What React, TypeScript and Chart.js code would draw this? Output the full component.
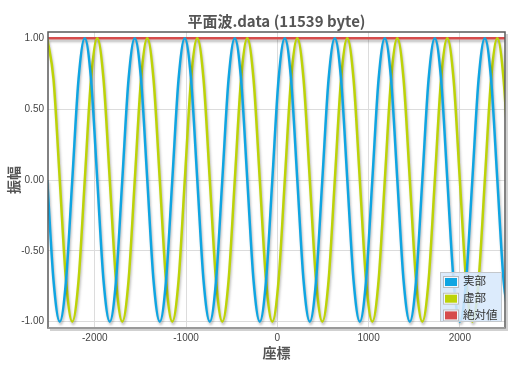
import { useEffect, useRef } from 'react';
import { Chart, registerables } from 'chart.js';

Chart.register(...registerables);

// Sample positions along the axis (座標)
const xPositions = [
  -2521, -2452.5, -2384, -2315.5, -2247, -2178.5,
  -2110, -2041.5, -1973, -1904.5, -1836, -1767.5, -1699, -1630.5,
  -1562, -1493.5, -1425, -1356.5, -1288, -1219.5, -1151, -1082.5,
  -1014, -945.5, -877, -808.5, -740, -671.5, -603, -534.5,
  -466, -397.5, -329, -260.5, -192, -123.5, -55, 13.5,
  82, 150.5, 219, 287.5, 356, 424.5, 493, 561.5,
  630, 698.5, 767, 835.5, 904, 972.5, 1041, 1109.5,
  1178, 1246.5, 1315, 1383.5, 1452, 1520.5, 1589, 1657.5,
  1726, 1794.5, 1863, 1931.5, 2000, 2068.5, 2137, 2205.5,
  2274, 2342.5, 2411, 2479.5, 2548,
];

// 実部
const realPart = [
  0, -0.71, -1, -0.71, 0, 0.71,
  1, 0.71, 0, -0.71, -1, -0.71, 0, 0.71,
  1, 0.71, 0, -0.71, -1, -0.71, 0, 0.71,
  1, 0.71, 0, -0.71, -1, -0.71, 0, 0.71,
  1, 0.71, 0, -0.71, -1, -0.71, 0, 0.71,
  1, 0.71, 0, -0.71, -1, -0.71, 0, 0.71,
  1, 0.71, 0, -0.71, -1, -0.71, 0, 0.71,
  1, 0.71, 0, -0.71, -1, -0.71, 0, 0.71,
  1, 0.71, 0, -0.71, -1, -0.71, 0, 0.71,
  1, 0.71, 0, -0.71, -1,
];

// 虚部
const imagPart = [
  1, 0.71, 0, -0.71, -1, -0.71,
  0, 0.71, 1, 0.71, 0, -0.71, -1, -0.71,
  0, 0.71, 1, 0.71, 0, -0.71, -1, -0.71,
  0, 0.71, 1, 0.71, 0, -0.71, -1, -0.71,
  0, 0.71, 1, 0.71, 0, -0.71, -1, -0.71,
  0, 0.71, 1, 0.71, 0, -0.71, -1, -0.71,
  0, 0.71, 1, 0.71, 0, -0.71, -1, -0.71,
  0, 0.71, 1, 0.71, 0, -0.71, -1, -0.71,
  0, 0.71, 1, 0.71, 0, -0.71, -1, -0.71,
  0, 0.71, 1, 0.71, 0,
];

// 絶対値
const absX = [-2521, 2548];
const absValues = [1, 1];

const xTickValues = [-2000, -1000, 0, 1000, 2000];
const yTickValues = [-1, -0.5, 0, 0.5, 1];

const seriesNames = ['実部', '虚部', '絶対値'];
const seriesColors = ['#0fa5e2', '#bdd308', '#d64c4c'];

const titleText = '平面波.data (11539 byte)';
const xTitle = '座標';
const yTitle = '振幅';

const JP = '"Noto Sans CJK JP", "Noto Sans", sans-serif';
const NUM = '"Liberation Sans", Arial, sans-serif';

const shadowPlugin = {
  id: 'lineShadow',
  beforeDatasetsDraw(chart: any) {
    const ctx = chart.ctx;
    ctx.save();
    ctx.shadowColor = 'rgba(0,0,0,0.28)';
    ctx.shadowOffsetX = 1;
    ctx.shadowOffsetY = 2.5;
    ctx.shadowBlur = 2.5;
  },
  afterDatasetsDraw(chart: any) {
    chart.ctx.restore();
  },
};

const framePlugin = {
  id: 'frame',
  afterDatasetsDraw(chart: any) {
    const { ctx, chartArea: a } = chart;
    ctx.save();
    ctx.strokeStyle = 'rgba(0,0,0,0.18)';
    ctx.lineWidth = 2;
    ctx.beginPath();
    ctx.moveTo(a.left + 2, a.bottom + 2);
    ctx.lineTo(a.right + 2, a.bottom + 2);
    ctx.lineTo(a.right + 2, a.top + 2);
    ctx.stroke();
    ctx.strokeStyle = '#5a5a5a';
    ctx.lineWidth = 1.5;
    ctx.strokeRect(a.left, a.top, a.right - a.left, a.bottom - a.top);
    ctx.strokeStyle = '#9a9a9a';
    ctx.lineWidth = 2;
    ctx.beginPath();
    ctx.moveTo(a.left, a.bottom);
    ctx.lineTo(a.right, a.bottom);
    ctx.stroke();
    ctx.restore();
  },
};

const legendPlugin = {
  id: 'boxLegend',
  afterDatasetsDraw(chart: any) {
    const { ctx, chartArea: a } = chart;
    const bw = 62;
    const bh = 50;
    const bx = a.right - 3 - bw;
    const by = a.bottom - 6 - bh;
    ctx.save();
    ctx.fillStyle = 'rgba(215,232,252,0.88)';
    ctx.fillRect(bx, by, bw, bh);
    ctx.strokeStyle = '#c4c8cc';
    ctx.lineWidth = 1;
    ctx.strokeRect(bx + 0.5, by + 0.5, bw - 1, bh - 1);
    seriesNames.forEach((name, i) => {
      const cy = by + 9 + i * 16.7;
      const sx = bx + 3;
      const sy = cy - 5;
      ctx.fillStyle = '#f4f8fc';
      ctx.fillRect(sx, sy, 16, 12);
      ctx.strokeStyle = '#b8bcc0';
      ctx.strokeRect(sx + 0.5, sy + 0.5, 15, 11);
      ctx.fillStyle = seriesColors[i];
      ctx.fillRect(sx + 2, sy + 2, 12, 8);
      ctx.fillStyle = '#333';
      ctx.font = `11.5px ${JP}`;
      ctx.textAlign = 'left';
      ctx.textBaseline = 'middle';
      ctx.fillText(name, bx + 23, cy);
    });
    ctx.restore();
  },
};

const titlePlugin = {
  id: 'topTitle',
  afterDraw(chart: any) {
    const { ctx, chartArea: a } = chart;
    ctx.save();
    ctx.fillStyle = '#555';
    ctx.font = `bold 15px ${JP}`;
    ctx.textAlign = 'center';
    ctx.textBaseline = 'middle';
    ctx.fillText(titleText, (a.left + a.right) / 2, 21);
    ctx.restore();
  },
};

export default function App() {
  const canvasRef = useRef<HTMLCanvasElement | null>(null);

  useEffect(() => {
    const canvas = canvasRef.current;
    if (!canvas) return;
    const chart = new Chart(canvas, {
      type: 'line',
      data: {
        datasets: [
          {
            label: seriesNames[0],
            data: xPositions.map((x, i) => ({ x, y: realPart[i] })),
            borderColor: seriesColors[0],
            borderWidth: 2.5,
            pointRadius: 0,
            cubicInterpolationMode: 'monotone',
            fill: false,
          },
          {
            label: seriesNames[1],
            data: xPositions.map((x, i) => ({ x, y: imagPart[i] })),
            borderColor: seriesColors[1],
            borderWidth: 2.5,
            pointRadius: 0,
            cubicInterpolationMode: 'monotone',
            fill: false,
          },
          {
            label: seriesNames[2],
            data: absX.map((x, i) => ({ x, y: absValues[i] })),
            borderColor: seriesColors[2],
            borderWidth: 2.5,
            pointRadius: 0,
            fill: false,
          },
        ],
      },
      options: {
        animation: false,
        responsive: false,
        devicePixelRatio: 1,
        layout: { padding: { top: 32, right: 17, left: 0, bottom: 0 } },
        plugins: {
          legend: { display: false },
          title: { display: false },
          tooltip: { enabled: false },
        },
        scales: {
          x: {
            type: 'linear',
            min: -2513,
            max: 2495,
            afterBuildTicks: (s: any) => {
              s.ticks = xTickValues.map((v) => ({ value: v }));
            },
            afterFit: (s: any) => {
              s.height = 41;
              s.paddingLeft = 0;
              s.paddingRight = 0;
            },
            grid: { color: '#dcdcdc', drawTicks: false, lineWidth: 1 },
            border: { display: false },
            ticks: {
              padding: 4,
              color: '#444',
              font: { family: NUM, size: 10 },
              maxRotation: 0,
              autoSkip: false,
              callback: (v: any) => String(v),
            },
            title: {
              display: true,
              text: xTitle,
              color: '#555',
              font: { family: JP, size: 14, weight: 'bold' },
              padding: { top: 0, bottom: 8 },
            },
          },
          y: {
            type: 'linear',
            min: -1.045,
            max: 1.045,
            afterBuildTicks: (s: any) => {
              s.ticks = yTickValues.map((v) => ({ value: v }));
            },
            afterFit: (s: any) => {
              s.width = 48;
              s.paddingTop = 0;
              s.paddingBottom = 0;
            },
            grid: { color: '#dcdcdc', drawTicks: false, lineWidth: 1 },
            border: { display: false },
            ticks: {
              padding: 4,
              color: '#444',
              font: { family: NUM, size: 10 },
              callback: (v: any) => Number(v).toFixed(2),
            },
            title: {
              display: true,
              text: yTitle,
              color: '#555',
              font: { family: JP, size: 14, weight: 'bold' },
              padding: { top: 5, bottom: 0 },
            },
          },
        },
      } as any,
      plugins: [shadowPlugin, framePlugin, legendPlugin, titlePlugin],
    });
    return () => chart.destroy();
  }, []);

  return (
    <div style={{ position: 'absolute', left: 0, top: 0, width: 522, height: 369 }}>
      <canvas ref={canvasRef} width={522} height={369} style={{ display: 'block' }} />
    </div>
  );
}
